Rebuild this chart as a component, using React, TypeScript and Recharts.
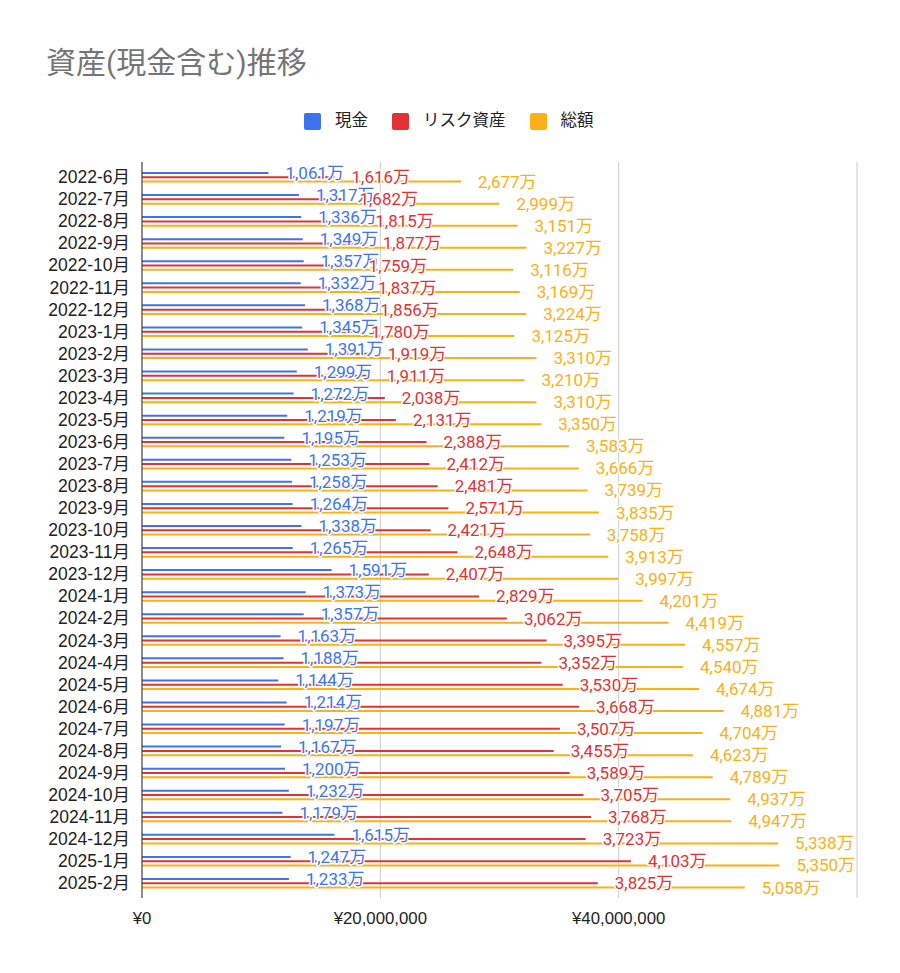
import React from "react";
import {
  BarChart,
  Bar,
  XAxis,
  YAxis,
  CartesianGrid,
  LabelList,
} from "recharts";

const months = [
  "2022-6月", "2022-7月", "2022-8月", "2022-9月", "2022-10月", "2022-11月", "2022-12月",
  "2023-1月", "2023-2月", "2023-3月", "2023-4月", "2023-5月", "2023-6月", "2023-7月",
  "2023-8月", "2023-9月", "2023-10月", "2023-11月", "2023-12月",
  "2024-1月", "2024-2月", "2024-3月", "2024-4月", "2024-5月", "2024-6月", "2024-7月",
  "2024-8月", "2024-9月", "2024-10月", "2024-11月", "2024-12月",
  "2025-1月", "2025-2月",
];

// 万円単位
const cash = [
  1061, 1317, 1336, 1349, 1357, 1332, 1368,
  1345, 1391, 1299, 1272, 1219, 1195, 1253, 1258, 1264, 1338, 1265, 1591,
  1373, 1357, 1163, 1188, 1144, 1214, 1197, 1167, 1200, 1232, 1179, 1615,
  1247, 1233,
];
const risk = [
  1616, 1682, 1815, 1877, 1759, 1837, 1856,
  1780, 1919, 1911, 2038, 2131, 2388, 2412, 2481, 2571, 2421, 2648, 2407,
  2829, 3062, 3395, 3352, 3530, 3668, 3507, 3455, 3589, 3705, 3768, 3723,
  4103, 3825,
];
const total = [
  2677, 2999, 3151, 3227, 3116, 3169, 3224,
  3125, 3310, 3210, 3310, 3350, 3583, 3666, 3739, 3835, 3758, 3913, 3997,
  4201, 4419, 4557, 4540, 4674, 4881, 4704, 4623, 4789, 4937, 4947, 5338,
  5350, 5058,
];

const xTicks = [0, 20000000, 40000000, 60000000];

const SERIES = [
  { key: "cash", name: "現金", color: "#3d74ee" },
  { key: "risk", name: "リスク資産", color: "#e33232" },
  { key: "total", name: "総額", color: "#fab016" },
];

const data = months.map((m, i) => ({
  month: m,
  cash: cash[i] * 10000,
  risk: risk[i] * 10000,
  total: total[i] * 10000,
}));

const FONT = "Roboto, 'Noto Sans CJK JP', sans-serif";
const AXIS_FONT = "'Liberation Sans', Arial, 'Noto Sans CJK JP', sans-serif";

const fmtMan = (v: number) => Math.round(v / 10000).toLocaleString("en-US") + "万";
const fmtYen = (v: number) => (v >= 60000000 ? "" : "¥" + v.toLocaleString("en-US"));

function makeLabel(color: string) {
  return (props: any) => {
    const { x, y, width, height, value } = props;
    return (
      <text
        x={x + width + 17}
        y={y + height / 2}
        dominantBaseline="central"
        fill={color}
        stroke="#fff"
        strokeWidth={3}
        strokeLinejoin="round"
        paintOrder="stroke"
        fontSize={17}
        fontFamily={FONT}
      >
        {fmtMan(value)}
      </text>
    );
  };
}

export default function App() {
  return (
    <div
      style={{
        position: "absolute",
        top: 0,
        left: 0,
        width: 900,
        height: 973,
        background: "#fff",
        fontFamily: FONT,
      }}
    >
      <div
        style={{
          position: "absolute",
          left: 46,
          top: 47,
          fontSize: 30,
          lineHeight: "32px",
          color: "#757575",
        }}
      >
        資産(現金含む)推移
      </div>

      {/* legend */}
      <div
        style={{
          position: "absolute",
          top: 110,
          left: 304,
          display: "flex",
          alignItems: "center",
          fontSize: 16.5,
          color: "#222",
          lineHeight: "22px",
        }}
      >
        {SERIES.map((s, i) => (
          <div
            key={s.key}
            style={{ display: "flex", alignItems: "center", marginRight: i < 2 ? 24 : 0 }}
          >
            <span
              style={{
                display: "inline-block",
                width: 17,
                height: 17,
                borderRadius: 2,
                background: s.color,
                marginRight: 14,
              }}
            />
            <span>{s.name}</span>
          </div>
        ))}
      </div>

      <div style={{ position: "absolute", top: 0, left: 0 }}>
        <BarChart
          width={900}
          height={973}
          data={data}
          layout="vertical"
          margin={{ top: 162, right: 43, bottom: 45, left: 0 }}
          barSize={2}
          barGap={2.3}
        >
          <CartesianGrid horizontal={false} stroke="#cccccc" />
          <XAxis
            type="number"
            domain={[0, 60000000]}
            ticks={xTicks}
            tickFormatter={fmtYen}
            axisLine={false}
            tickLine={false}
            tickMargin={8}
            interval={0}
            tick={{ fill: "#222", fontSize: 16.8, fontFamily: AXIS_FONT }}
            height={30}
          />
          <YAxis
            type="category"
            dataKey="month"
            width={142}
            axisLine={{ stroke: "#333" }}
            tickLine={false}
            tickSize={6}
            tickMargin={6}
            interval={0}
            padding={{ top: 4, bottom: 4 }}
            tick={{ fill: "#222", fontSize: 17.5, fontFamily: AXIS_FONT }}
          />
          {SERIES.map((s) => (
            <Bar
              key={s.key}
              dataKey={s.key}
              name={s.name}
              fill={s.color}
              isAnimationActive={false}
            >
              <LabelList dataKey={s.key} content={makeLabel(s.color)} />
            </Bar>
          ))}
        </BarChart>
      </div>
    </div>
  );
}
